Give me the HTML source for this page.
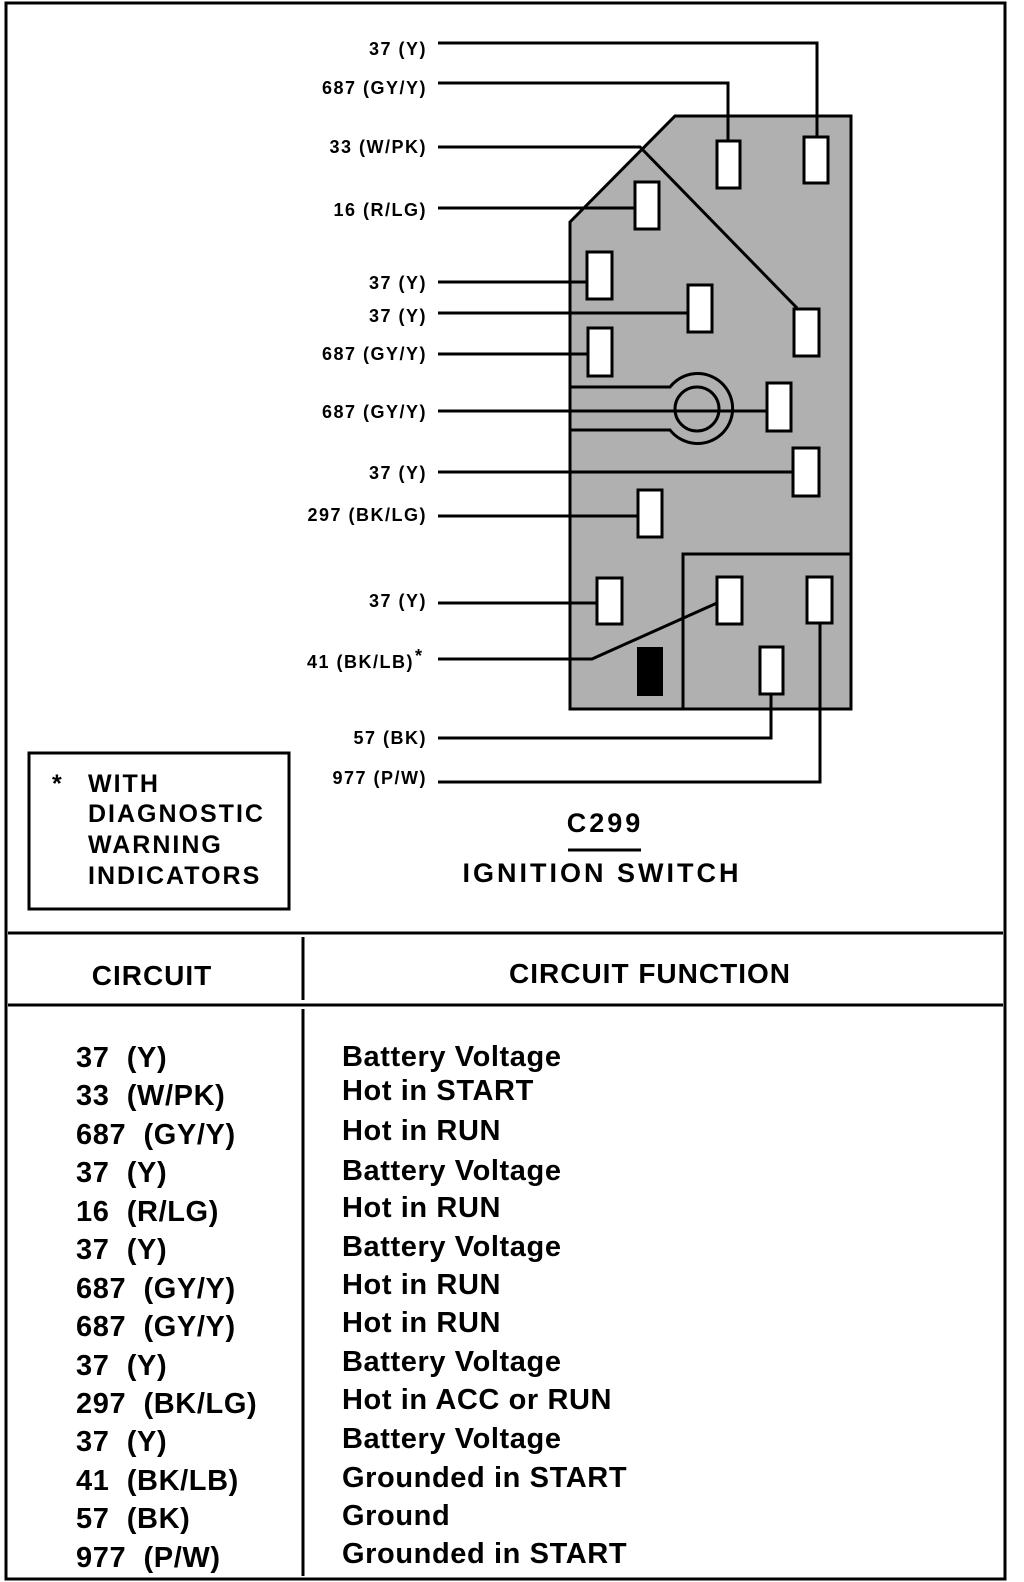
<!DOCTYPE html>
<html><head><meta charset="utf-8"><style>
html,body{margin:0;padding:0;background:#fff;}
svg{display:block;}
text{white-space:pre;}
.lb{font-family:"Liberation Sans",sans-serif;font-weight:bold;font-size:18px;letter-spacing:1.5px;}
.tb{font-family:"Liberation Sans",sans-serif;font-weight:bold;font-size:29px;letter-spacing:0.6px;}
.hd{font-family:"Liberation Sans",sans-serif;font-weight:bold;font-size:28px;letter-spacing:1px;}
.lg{font-family:"Liberation Sans",sans-serif;font-weight:bold;font-size:25px;letter-spacing:2px;}
.tt{font-family:"Liberation Sans",sans-serif;font-weight:bold;font-size:27px;letter-spacing:3px;}
</style></head><body>
<svg width="1024" height="1582" viewBox="0 0 1024 1582" xmlns="http://www.w3.org/2000/svg">
<rect x="0" y="0" width="1024" height="1582" fill="#fff"/>
<!-- frame -->
<rect x="6" y="3" width="999" height="1576" fill="none" stroke="#000" stroke-width="3"/>
<line x1="8" y1="933" x2="1003" y2="933" stroke="#000" stroke-width="3"/>
<line x1="8" y1="1005" x2="1003" y2="1005" stroke="#000" stroke-width="3"/>
<line x1="303" y1="937" x2="303" y2="1000" stroke="#000" stroke-width="3"/>
<line x1="303" y1="1009" x2="303" y2="1576" stroke="#000" stroke-width="3"/>

<!-- connector body -->
<polygon points="570,222 675,116 851,116 851,709 570,709" fill="#b0b0b0" stroke="#000" stroke-width="3"/>
<rect x="683" y="554" width="168" height="155" fill="none" stroke="#000" stroke-width="3"/>
<!-- keyhole -->
<path d="M570,387 L670,387 A35,35 0 1 1 670,430 L570,430" fill="none" stroke="#000" stroke-width="3"/>
<circle cx="697" cy="409" r="22" fill="none" stroke="#000" stroke-width="3"/>

<g stroke="#000" stroke-width="3" fill="none">
<polyline points="438,43 817,43 817,137"/>
<polyline points="438,83 728,83 728,141"/>
<polyline points="438,147 640,147 797,308"/>
<line x1="438" y1="208" x2="635" y2="208"/>
<line x1="438" y1="282" x2="587" y2="282"/>
<line x1="438" y1="313" x2="688" y2="313"/>
<line x1="438" y1="354" x2="588" y2="354"/>
<line x1="438" y1="411" x2="767" y2="411"/>
<line x1="438" y1="472" x2="793" y2="472"/>
<line x1="438" y1="516" x2="638" y2="516"/>
<line x1="438" y1="603" x2="597" y2="603"/>
<polyline points="438,659 592,659 717,603"/>
<polyline points="438,738 771,738 771,695"/>
<polyline points="438,782 820,782 820,623"/>
</g>

<g fill="#fff" stroke="#000" stroke-width="3">
<rect x="717" y="141" width="23" height="47"/>
<rect x="804" y="137" width="24" height="46"/>
<rect x="635" y="182" width="24" height="47"/>
<rect x="587" y="252" width="25" height="47"/>
<rect x="688" y="285" width="24" height="47"/>
<rect x="794" y="309" width="25" height="47"/>
<rect x="588" y="328" width="24" height="48"/>
<rect x="767" y="383" width="24" height="48"/>
<rect x="793" y="448" width="26" height="48"/>
<rect x="638" y="490" width="24" height="47"/>
<rect x="597" y="578" width="25" height="46"/>
<rect x="717" y="577" width="25" height="47"/>
<rect x="807" y="577" width="25" height="46"/>
<rect x="760" y="647" width="23" height="47"/>
</g>
<rect x="637" y="647" width="26" height="49" fill="#000"/>

<!-- labels -->
<g class="lb" text-anchor="end">
<text x="427" y="55">37 (Y)</text>
<text x="427" y="94">687 (GY/Y)</text>
<text x="427" y="153">33 (W/PK)</text>
<text x="427" y="216">16 (R/LG)</text>
<text x="427" y="289">37 (Y)</text>
<text x="427" y="322">37 (Y)</text>
<text x="427" y="360">687 (GY/Y)</text>
<text x="427" y="418">687 (GY/Y)</text>
<text x="427" y="479">37 (Y)</text>
<text x="427" y="521">297 (BK/LG)</text>
<text x="427" y="607">37 (Y)</text>
<text x="414" y="668">41 (BK/LB)</text>
<text x="427" y="744">57 (BK)</text>
<text x="427" y="784">977 (P/W)</text>
</g>
<text x="415" y="662" class="lb">*</text>

<!-- legend -->
<rect x="29" y="753" width="260" height="156" fill="none" stroke="#000" stroke-width="3"/>
<text x="52" y="792" class="lg">*</text>
<g class="lg">
<text x="88" y="792">WITH</text>
<text x="88" y="822">DIAGNOSTIC</text>
<text x="88" y="853">WARNING</text>
<text x="88" y="884">INDICATORS</text>
</g>

<text x="605" y="832" class="tt" text-anchor="middle">C299</text>
<line x1="568" y1="850" x2="641" y2="850" stroke="#000" stroke-width="3"/>
<text x="602" y="882" class="tt" text-anchor="middle">IGNITION SWITCH</text>

<!-- table -->
<text x="152" y="985" class="hd" text-anchor="middle">CIRCUIT</text>
<text x="650" y="983" class="hd" text-anchor="middle">CIRCUIT FUNCTION</text>
<g class="tb">
<text x="76" y="1067">37  (Y)</text>
<text x="76" y="1105">33  (W/PK)</text>
<text x="76" y="1144">687  (GY/Y)</text>
<text x="76" y="1182">37  (Y)</text>
<text x="76" y="1221">16  (R/LG)</text>
<text x="76" y="1259">37  (Y)</text>
<text x="76" y="1298">687  (GY/Y)</text>
<text x="76" y="1336">687  (GY/Y)</text>
<text x="76" y="1375">37  (Y)</text>
<text x="76" y="1413">297  (BK/LG)</text>
<text x="76" y="1451">37  (Y)</text>
<text x="76" y="1490">41  (BK/LB)</text>
<text x="76" y="1528">57  (BK)</text>
<text x="76" y="1567">977  (P/W)</text>
</g>
<g class="tb">
<text x="342" y="1066">Battery Voltage</text>
<text x="342" y="1100">Hot in START</text>
<text x="342" y="1140">Hot in RUN</text>
<text x="342" y="1180">Battery Voltage</text>
<text x="342" y="1217">Hot in RUN</text>
<text x="342" y="1256">Battery Voltage</text>
<text x="342" y="1294">Hot in RUN</text>
<text x="342" y="1332">Hot in RUN</text>
<text x="342" y="1371">Battery Voltage</text>
<text x="342" y="1409">Hot in ACC or RUN</text>
<text x="342" y="1448">Battery Voltage</text>
<text x="342" y="1487">Grounded in START</text>
<text x="342" y="1525">Ground</text>
<text x="342" y="1563">Grounded in START</text>
</g>
</svg>
</body></html>
